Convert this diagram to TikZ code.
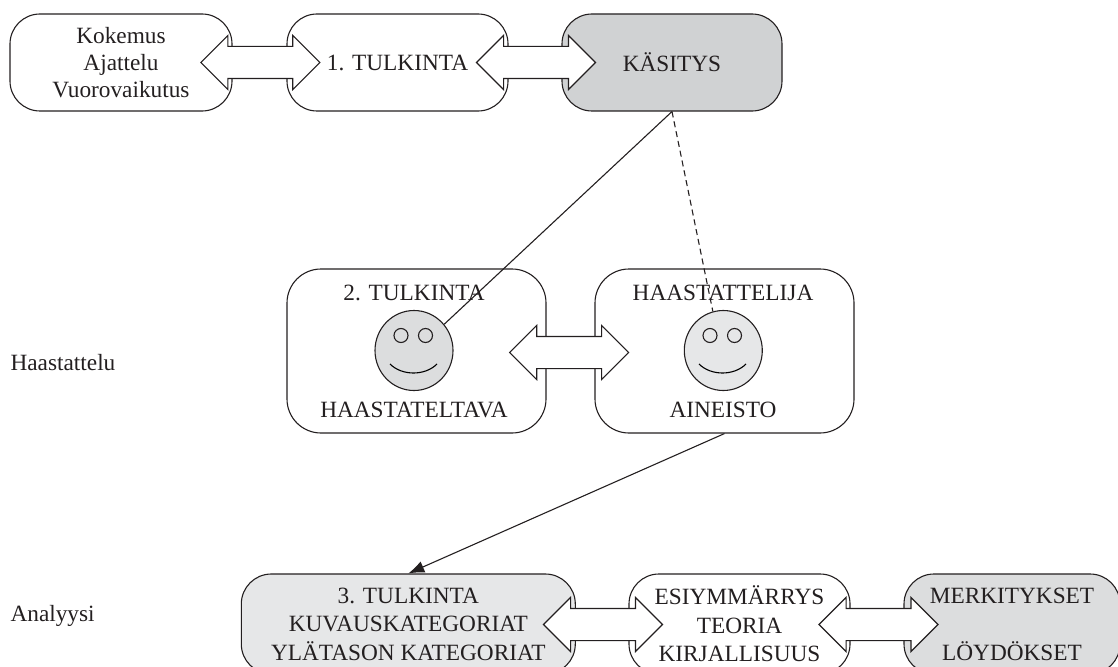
\documentclass[tikz,border=0pt]{standalone}
\usepackage{fontspec}
\setmainfont{Liberation Serif}
\usepackage{tikz}
\usetikzlibrary{shapes.arrows}
\usetikzlibrary{shapes.geometric}
\usetikzlibrary{arrows.meta}
\definecolor{kgray}  {RGB}{208,210,211}
\definecolor{lgray}  {RGB}{230,231,232}
\definecolor{fgray}  {RGB}{220,221,222}
\definecolor{tblack} {RGB}{35,31,32}
\tikzset{
    tbox/.style={draw=tblack, rounded corners=30pt, minimum height=97pt, inner sep=0pt,
             align=center, text=tblack, font=\fontsize{23.3}{28.5}\selectfont},
    mbox/.style={draw=tblack, rounded corners=34pt, minimum width=259pt, minimum height=164pt},
    tlabel/.style={text=tblack, font=\fontsize{23.3}{28.5}\selectfont, inner sep=0pt},
    twoway/.style={draw=tblack, fill=white, double arrow, inner xsep=0pt, inner ysep=15.5pt,
             minimum height=119pt, double arrow head extend=11pt},
    face/.style={draw=tblack, fill=fgray, ellipse, minimum width=78pt, minimum height=80pt, inner sep=0pt},
    eye/.style={draw=tblack, circle, minimum size=14pt, inner sep=0pt},
    link/.style={draw=tblack}
  }

\begin{document}
\begin{tikzpicture}[x=1pt,y=-1pt,line width=1.1pt]
 \useasboundingbox (0,0) rectangle (1118,666);
 \clip (0,0) rectangle (1118,666);
 %Top row
     \node[tbox,minimum width=222pt,font=\fontsize{23.3}{27}\selectfont] (kokemus) at (121,62.5) {Kokemus\\Ajattelu\\Vuorovaikutus};
     \node[tbox,minimum width=221pt] (tulkinta1) at (397.5,62.5) {1. TULKINTA};
     \node[tbox,minimum width=220pt,fill=kgray] (kasitys) at (672,62.5) {K\"ASITYS};
 %Middle row
     \node[mbox] (tulkinta2) at (416.5,351) {};
     \node[mbox] (aineisto) at (724.5,351) {};
     \node[tlabel] (t2) at (414,293) {2. TULKINTA};
     \node[tlabel] (haastateltava) at (414,409.5) {HAASTATELTAVA};
     \node[tlabel] (haastattelija) at (723,293) {HAASTATTELIJA};
     \node[tlabel] (ain) at (723,409.5) {AINEISTO};
 %Faces
     \node[face] (face1) at (414,350.5) {};
     \node[eye] (eye1a) at (401,335.5) {};
     \node[eye] (eye1b) at (425.5,335.5) {};
     \draw (390,364) .. controls (402,376) and (425,376) .. (437,364);
     \node[face,fill=lgray] (face2) at (723.3,350.5) {};
     \node[eye] (eye2a) at (710,335.5) {};
     \node[eye] (eye2b) at (734.5,335.5) {};
     \draw (699,364) .. controls (711,376) and (734,376) .. (746,364);
 %Bottom row
     \node[tbox,minimum width=334pt,minimum height=100pt,fill=lgray] (tulkinta3) at (408.3,624) {3. TULKINTA\\KUVAUSKATEGORIAT\\YL\"ATASON KATEGORIAT};
     \node[tbox,minimum width=221pt,minimum height=100pt] (esiymmarrys) at (739.5,624) {ESIYMM\"ARRYS\\TEORIA\\KIRJALLISUUS};
     \node[tbox,minimum width=216pt,minimum height=100pt,fill=fgray] (merkitykset) at (1012,624) {MERKITYKSET\\[28.5pt]L\"OYD\"OKSET};
 %Left labels
     \node[tlabel,anchor=west] (haastattelu) at (10,362.5) {Haastattelu};
     \node[tlabel,anchor=west] (analyysi) at (10,616) {Analyysi};
 %Block arrows
     \node[twoway] (a1) at (260.3,62.5) {};
     \node[twoway] (a2) at (536,62.5) {};
     \node[twoway] (a3) at (569.2,352.5) {};
     \node[twoway] (a4) at (603,624.5) {};
     \node[twoway] (a5) at (878.5,624.5) {};
 %Lines
     \draw[link] (kasitys.south) -- (face1.41);
     \draw[link,dash pattern=on 6pt off 4pt] (kasitys.south) -- (face2.105);
     \draw[link,-{Latex[length=16pt,width=12pt]}] (aineisto.south) -- (tulkinta3.north);
 \end{tikzpicture}
\end{document}
